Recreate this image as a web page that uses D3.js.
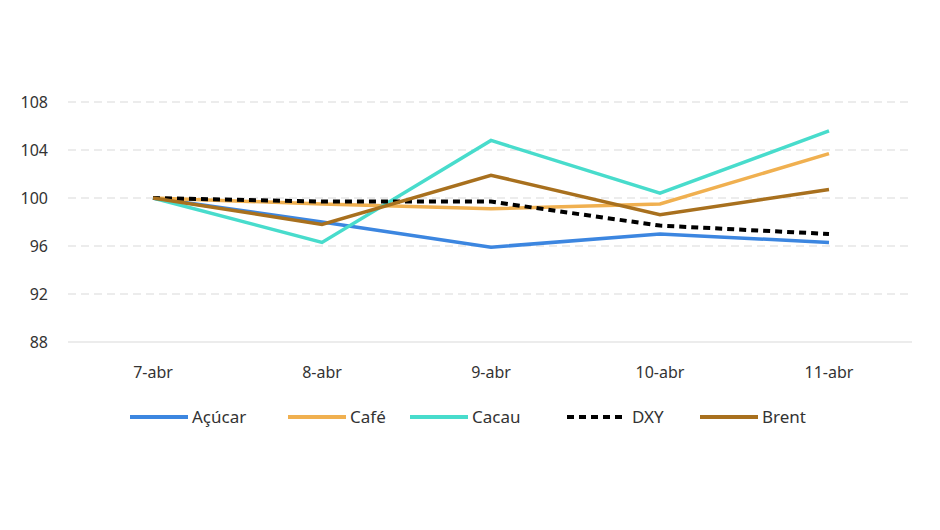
<!DOCTYPE html><html><head><meta charset="utf-8">
<script src="https://cdn.jsdelivr.net/npm/d3@7"></script>
<style>body{margin:0;background:#fff}text{font-family:"Noto Sans",sans-serif}</style></head><body>
<svg id="c" width="940" height="530"></svg>
<script>
const categories=["7-abr","8-abr","9-abr","10-abr","11-abr"];
const acucar=[100,98.0,95.9,97.0,96.3];
const cafe=[100,99.5,99.1,99.5,103.7];
const cacau=[100,96.3,104.8,100.4,105.6];
const dxy=[100,99.7,99.7,97.7,97.0];
const brent=[100,97.8,101.9,98.6,100.7];
const yTicks=[88,92,96,100,104,108];
const series=[
 {name:"Açúcar",values:acucar,color:"#3c86e0",dash:null},
 {name:"Café",values:cafe,color:"#f0b050",dash:null},
 {name:"Cacau",values:cacau,color:"#48dccc",dash:null},
 {name:"DXY",values:dxy,color:"#000",dash:"7,5"},
 {name:"Brent",values:brent,color:"#a8701e",dash:null}];
const svg=d3.select("#c");
const x=d3.scalePoint().domain(categories).range([153,829]);
const y=d3.scaleLinear().domain([88,108]).range([342,102]);
svg.selectAll(".g").data(yTicks.filter(t=>t>88)).join("line").attr("x1",68).attr("x2",912)
 .attr("y1",d=>y(d)).attr("y2",d=>y(d)).attr("stroke","#d9d9d9").attr("stroke-dasharray","8,5");
svg.append("line").attr("x1",68).attr("x2",912).attr("y1",y(88)).attr("y2",y(88)).attr("stroke","#d9d9d9");
svg.selectAll(".yl").data(yTicks).join("text").attr("x",48).attr("y",d=>y(d)+6).attr("text-anchor","end")
 .attr("font-size",16).attr("fill","#333").text(d=>d);
svg.selectAll(".xl").data(categories).join("text").attr("x",d=>x(d)).attr("y",378).attr("text-anchor","middle")
 .attr("font-size",16).attr("fill","#333").text(d=>d);
const line=d3.line().x((d,i)=>x(categories[i])).y(d=>y(d));
series.forEach(s=>svg.append("path").attr("d",line(s.values)).attr("fill","none").attr("stroke",s.color)
 .attr("stroke-width",s.dash?4:3.5).attr("stroke-dasharray",s.dash));
const lx=[130,288,410,567,700];
series.forEach((s,i)=>{
 svg.append("line").attr("x1",lx[i]).attr("x2",lx[i]+58).attr("y1",417).attr("y2",417).attr("stroke",s.color)
  .attr("stroke-width",4).attr("stroke-dasharray",s.dash);
 svg.append("text").attr("x",lx[i]+(s.dash?65:62)).attr("y",423).attr("font-size",17).attr("fill","#333").text(s.name);
});
</script></body></html>
